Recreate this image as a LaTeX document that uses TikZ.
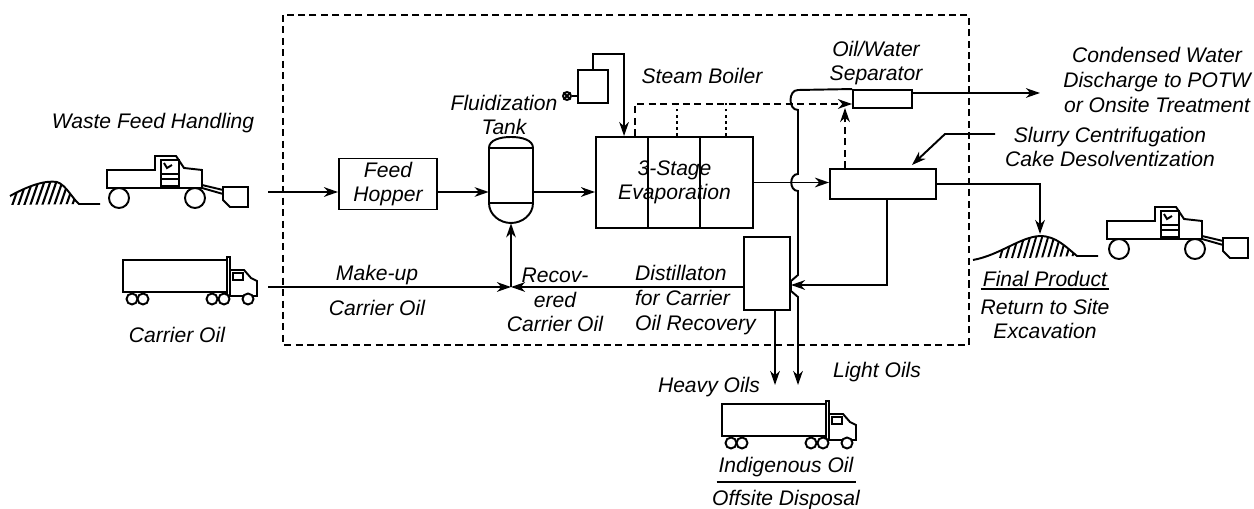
\documentclass[tikz,border=0pt]{standalone}
\usepackage{fontspec}
\setmainfont{Liberation Sans}
\usetikzlibrary{arrows.meta,calc}

\tikzset{
  lbl/.style={font=\itshape\fontsize{12}{14}\selectfont, inner sep=1pt, align=center},
  unit/.style={draw, line width=1.1pt, inner sep=0pt, align=center, font=\itshape\fontsize{12}{14}\selectfont},
  pipe/.style={line width=1.1pt},
  flow/.style={line width=1.1pt, -{Stealth[length=8pt,width=5.5pt,inset=2.5pt]}},
  vapour/.style={line width=1.1pt, dash pattern=on 4pt off 2.5pt},
}

% pickup truck with front bucket, origin at top left
\newcommand{\pickuptruck}[1]{%
  \begin{scope}[shift={#1}, line width=1.1pt]
    \draw (0,14) -- (48,14) -- (48,0) -- (69,0) -- (77,12) -- (95,14) -- (95,32) -- (0,32) -- cycle;
    \draw (54,4) rectangle (72,30);
    \draw (54,18) -- (72,18) (54,23) -- (72,23) (57,7) -- (60,12) -- (65,9);
    \draw (95,29) -- (116,34) (95,32) -- (116,38);
    \draw (116,31) -- (141,31) -- (141,51) -- (123,51) -- (116,44) -- cycle;
    \foreach \wx in {12,88} \draw[fill=white] (\wx,42) circle[radius=10];
  \end{scope}}

% tractor trailer, origin at top left of the trailer
\newcommand{\semitruck}[1]{%
  \begin{scope}[shift={#1}, line width=1.1pt]
    \draw (0,0) rectangle (104,32);
    \draw (104,-3) rectangle (107,36);
    \draw (107,10) -- (121,10) -- (128,18) -- (134,21) -- (134,36) -- (107,36);
    \draw (110,13) rectangle (120,20);
    \foreach \wx in {9,20,89,101,125} \draw[fill=white] (\wx,39) circle[radius=5.5];
  \end{scope}}

\begin{document}
\begin{tikzpicture}[x=0.02cm, y=-0.02cm]
    \useasboundingbox (0,0) rectangle (1254,509);

    % Treatment boundary
    \draw[vapour] (283,15) rectangle (969,345);

    % Process units
    \node[unit, minimum width=1.96cm, minimum height=1.02cm] (hopper) at (388,184) {Feed\\Hopper};
    \node[minimum width=0.88cm, minimum height=1.72cm, inner sep=0pt] (tank) at (511,180) {};
    \node[unit, minimum width=3.14cm, minimum height=1.82cm] (evap) at (674.5,182.5) {3-Stage\\Evaporation};
    \node[unit, minimum width=0.6cm, minimum height=0.66cm] (boiler) at (593,86.5) {};
    \node[unit, circle, minimum size=0.16cm] (valve) at (567,96) {};
    \node[unit, minimum width=1.18cm, minimum height=0.36cm] (separator) at (882.5,99) {};
    \node[unit, minimum width=2.12cm, minimum height=0.6cm] (centrifuge) at (883,184) {};
    \node[unit, minimum width=0.92cm, minimum height=1.46cm] (still) at (767,273.5) {};

    % Tank outline
    \begin{scope}[shift={(tank.center)}, pipe]
        \draw (-22,-32) -- (-22,23) .. controls (-22,35) and (-11,43) .. (0,43)
              .. controls (11,43) and (22,35) .. (22,23) -- (22,-32)
              .. controls (22,-40) and (11,-43) .. (0,-43)
              .. controls (-11,-43) and (-22,-40) .. (-22,-32) -- cycle;
        \draw (-22,-32) -- (22,-32) (-22,23) -- (22,23);
    \end{scope}

    % Evaporator stages
    \draw[pipe] ($(evap.north west)+(53,0)$) -- ($(evap.south west)+(53,0)$);
    \draw[pipe] ($(evap.north west)+(105,0)$) -- ($(evap.south west)+(105,0)$);

    % Boiler valve
    \draw[pipe] (valve.north west) -- (valve.south east) (valve.north east) -- (valve.south west);
    \draw[pipe] (valve.east) -- (valve.east -| boiler.west);

    % Vehicles
    \pickuptruck{(107,156)}
    \pickuptruck{(1107,207)}
    \semitruck{(123,260)}
    \semitruck{(722,404)}

    % Soil piles
    \begin{scope}
        \clip (10,205) -- (10,196) .. controls (28,186) and (45,180) .. (57,182)
              .. controls (66,185) and (72,198) .. (79,204) -- cycle;
        \foreach \hx in {0,6,...,72} \draw[line width=1.2pt] (\hx,206) -- ++(9,-26);
    \end{scope}
    \draw[pipe] (10,196) .. controls (28,186) and (45,180) .. (57,182)
          .. controls (66,185) and (72,198) .. (79,204) -- (100,204);
    \begin{scope}
        \clip (973,260) .. controls (1000,255) and (1020,237) .. (1040,236)
              .. controls (1056,236) and (1066,247) .. (1077,256) -- cycle;
        \foreach \hx in {1000,1006,...,1076} \draw[line width=1.1pt] (\hx,258) -- ++(7,-24);
    \end{scope}
    \draw[pipe] (973,260) .. controls (1000,255) and (1020,237) .. (1040,236)
          .. controls (1056,236) and (1066,247) .. (1077,256) -- (1098,256);

    % Free ends
    \coordinate (feedfrom) at (268,192);
    \coordinate (makeupfrom) at (268,287);
    \coordinate (junction) at (511,287);
    \coordinate (steamin) at ($(evap.north west)+(29,0)$);
    \coordinate (vapin) at ($(separator.west)+(0,5)$);
    \coordinate (upvap) at (845,108);
    \coordinate (waterend) at (1040,93);
    \coordinate (slurryfrom) at (995,134);
    \coordinate (slurrytip) at (912,165);
    \coordinate (piletop) at (1040,234);
    \coordinate (stillin) at (790,285);
    \coordinate (heavyend) at (775,385);
    \coordinate (lightend) at (798,385);

    % Main flow
    \draw[flow] (feedfrom) -- (feedfrom -| hopper.west);
    \draw[flow] (hopper.east |- feedfrom) -- (tank.west |- feedfrom);
    \draw[flow] (tank.east |- feedfrom) -- (evap.west |- feedfrom);
    \draw[flow] (evap.east) -- (evap.east -| centrifuge.west);
    \draw[flow] (centrifuge.east) -| (piletop);
    \draw[flow] ($(centrifuge.south)+(4,0)$) |- (still.east |- stillin);
    \draw[flow] (still.west |- junction) -- (junction);
    \draw[flow] (makeupfrom) -- (junction);
    \draw[flow] (junction) -- (tank.south);
    \draw[flow] (still.south -| heavyend) -- (heavyend);
    \draw[flow] (boiler.north) -- ++(0,-15) -| (steamin);
    \draw[flow] (separator.east |- waterend) -- (waterend);
    \draw[flow] (slurryfrom) -- (945,134) -- (slurrytip);

    % Light oils line with hops
    \draw[flow] (separator.north west) -- (798,90) .. controls (788,90) and (788,110) .. (798,110)
        -- (798,174) .. controls (789,174) and (789,191) .. (798,191)
        -- (798,275) -- (791,281) -- (791,291) -- (798,297) -- (lightend);

    % Vapour lines
    \draw[flow, vapour] ($(evap.north west)+(40,0)$) |- (vapin);
    \draw[pipe, dash pattern=on 1.5pt off 2pt] ($(evap.north west)+(82,0)$) -- ++(0,-33);
    \draw[pipe, dash pattern=on 1.5pt off 2pt] ($(evap.north west)+(131,0)$) -- ++(0,-33);
    \draw[flow, vapour] (centrifuge.north -| upvap) -- (upvap);

    % Labels
    \node[lbl] (wastelbl) at (153,123) {Waste Feed Handling};
    \node[lbl] (fluidlbl) at (504,115) {Fluidization\\Tank};
    \node[lbl] (steamlbl) at (702,76) {Steam Boiler};
    \node[lbl] (seplbl) at (876,63) {Oil/Water\\Separator};
    \node[lbl] (waterlbl) at (1157,80) {Condensed Water\\Discharge to POTW\\or Onsite Treatment};
    \node[lbl] (slurrylbl) at (1110,147) {Slurry Centrifugation\\Cake Desolventization};
    \node[lbl] (carrierlbl) at (177,335) {Carrier Oil};
    \node[lbl] (makeuplbl) at (377,275) {Make-up};
    \node[lbl] (makeup2lbl) at (377,308) {Carrier Oil};
    \node[lbl] (recovlbl) at (555,300) {Recov-\\ered\\Carrier Oil};
    \node[lbl, align=left, anchor=west] (distlbl) at (633,300) {Distillaton\\for Carrier\\Oil Recovery};
    \node[lbl] (heavylbl) at (709,387) {Heavy Oils};
    \node[lbl] (lightlbl) at (877,372) {Light Oils};
    \node[lbl] (finallbl) at (1045,279) {Final Product};
    \node[lbl] (returnlbl) at (1045,319) {Return to Site\\Excavation};
    \node[lbl] (indiglbl) at (786,467) {Indigenous Oil};
    \node[lbl] (offsitelbl) at (786,500) {Offsite Disposal};
    \draw[pipe] (finallbl.south west) -- (finallbl.south east);
    \draw[pipe] ([yshift=-2pt]indiglbl.south west) -- ([yshift=-2pt]indiglbl.south east);
\end{tikzpicture}
\end{document}
